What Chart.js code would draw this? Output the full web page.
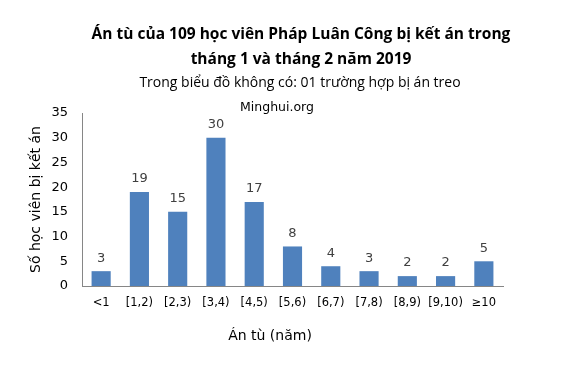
<!DOCTYPE html>
<html>
<head>
<meta charset="utf-8">
<script src="https://cdn.jsdelivr.net/npm/chart.js@4"></script>
<style>
  html, body { margin: 0; padding: 0; background: #fff; }
  #wrap { width: 568px; height: 367px; }
</style>
</head>
<body>
<div id="wrap"><canvas id="sentences"></canvas></div>
<script>
'use strict';

const categories = ['<1', '[1,2)', '[2,3)', '[3,4)', '[4,5)', '[5,6)', '[6,7)', '[7,8)', '[8,9)', '[9,10)', '≥10'];
const practitioners = [3, 19, 15, 30, 17, 8, 4, 3, 2, 2, 5];
const yTicks = [0, 5, 10, 15, 20, 25, 30, 35];

const titleLines = ['Án tù của 109 học viên Pháp Luân Công bị kết án trong', 'tháng 1 và tháng 2 năm 2019'];
const subtitleText = 'Trong biểu đồ không có: 01 trường hợp bị án treo';
const sourceText = 'Minghui.org';
const xTitleText = 'Án tù (năm)';

// numbers above each bar
const barLabels = {
  id: 'barLabels',
  afterDatasetsDraw(chart) {
    let ctx = chart.ctx;
    let meta = chart.getDatasetMeta(0);
    ctx.save();
    ctx.font = '13px "DejaVu Sans"';
    ctx.fillStyle = '#404040';
    ctx.textAlign = 'center';
    ctx.textBaseline = 'middle';
    meta.data.forEach(function (bar, i) {
      ctx.fillText(practitioners[i], bar.x, bar.y - 13);
    });
    ctx.restore();
  }
};

// title block and captions (the title is offset from the plot, like the original)
const captions = {
  id: 'captions',
  afterDraw(chart) {
    let ctx = chart.ctx;
    ctx.save();
    ctx.fillStyle = '#000';
    ctx.textAlign = 'center';
    ctx.textBaseline = 'middle';
    ctx.font = 'bold 15.5px "Open Sans"';
    ctx.fillText(titleLines[0], 301, 35);
    ctx.fillText(titleLines[1], 301, 60);
    ctx.font = '14px "Open Sans"';
    ctx.fillText(subtitleText, 300, 83);
    ctx.font = '12.5px "DejaVu Sans"';
    ctx.fillText(sourceText, 277, 108);
    ctx.font = '14px "DejaVu Sans"';
    ctx.fillText(xTitleText, 270, 336);
    ctx.restore();
  }
};

let chartObject = {
  type: 'bar',
  data: {
    labels: categories,
    datasets: [{
      label: 'Số học viên',
      data: practitioners,
      backgroundColor: '#4F81BD',
      categoryPercentage: 1,
      barPercentage: 0.5
    }]
  },
  options: {
    responsive: true,
    maintainAspectRatio: false,
    animation: false,
    layout: { padding: { left: 0, right: 65, top: 113, bottom: 0 } },
    plugins: {
      legend: { display: false },
      tooltip: { enabled: false },
      title: { display: false }
    },
    scales: {
      x: {
        grid: { display: false, drawTicks: false },
        border: { color: '#868686' },
        afterFit(axis) { axis.height = 81; },
        ticks: { color: '#000', font: { family: '"DejaVu Sans"', size: 11.5 }, padding: 10, maxRotation: 0, autoSkip: false }
      },
      y: {
        min: 0,
        max: 35,
        grid: { display: false, drawTicks: false },
        border: { color: '#868686' },
        afterFit(axis) { axis.width = 82; },
        afterBuildTicks(axis) { axis.ticks = yTicks.map(v => ({ value: v })); },
        ticks: { color: '#000', font: { family: '"DejaVu Sans"', size: 13 }, padding: 14 },
        title: { display: true, text: 'Số học viên bị kết án', color: '#000', font: { family: '"DejaVu Sans"', size: 14 }, padding: { top: 28 } }
      }
    }
  },
  plugins: [barLabels, captions]
};

let ctx = document.getElementById('sentences').getContext('2d');
let myChart = new Chart(ctx, chartObject);
</script>
</body>
</html>
